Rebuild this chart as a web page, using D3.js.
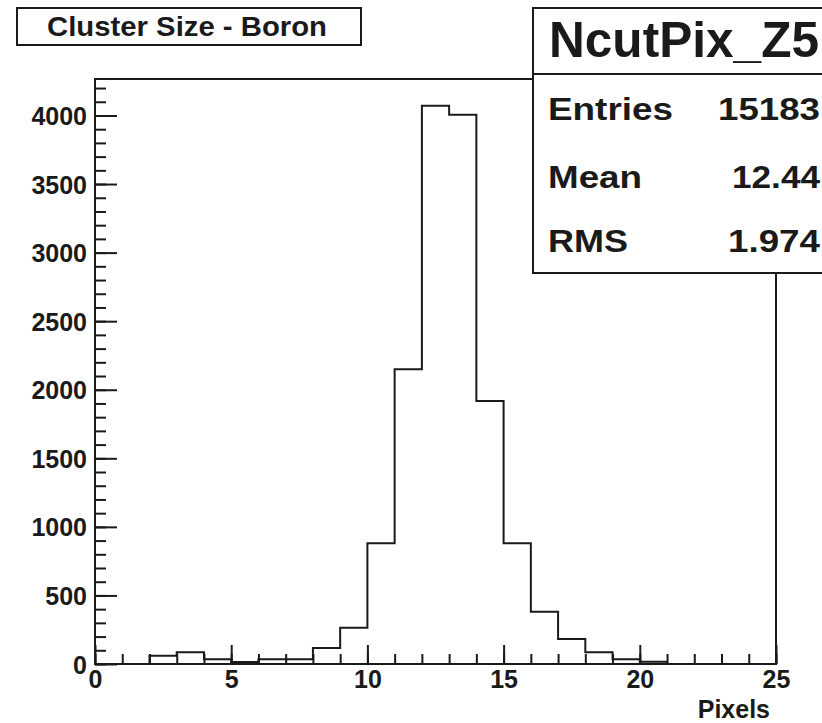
<!DOCTYPE html>
<html>
<head>
<meta charset="utf-8">
<script src="https://cdn.jsdelivr.net/npm/d3@7"></script>
<style>
  html, body { margin: 0; padding: 0; background: #fff; }
  svg { display: block; font-family: "Liberation Sans", Arial, Helvetica, sans-serif; font-weight: bold; }
</style>
</head>
<body>
<div id="chart"></div>
<script>
// cluster size histogram, one bin per pixel count (0..25)
const binEdges = [0, 1, 2, 3, 4, 5, 6, 7, 8, 9, 10, 11, 12, 13, 14, 15, 16, 17, 18, 19, 20, 21, 22, 23, 24, 25];
const binCounts = [0, 0, 60, 85, 34, 15, 34, 34, 117, 265, 880, 2149, 4071, 4006, 1918, 880, 381, 182, 85, 34, 17, 0, 0, 0, 0];

const xMajorTicks = [0, 5, 10, 15, 20, 25];
const yMajorTicks = [0, 500, 1000, 1500, 2000, 2500, 3000, 3500, 4000];
const yMax = 4266;

const histTitle = "Cluster Size - Boron";
const xTitle = "Pixels";
const statsName = "NcutPix_Z5";
const statsLabels = ["Entries", "Mean", "RMS"];
const statsValues = ["15183", "12.44", "1.974"];

const W = 822, H = 723;
const frame = { left: 95, right: 776, top: 79, bottom: 664 };
const ink = "#1a1a1a";

const svg = d3.select("#chart").append("svg")
    .attr("width", W)
    .attr("height", H);

const x = d3.scaleLinear()
    .domain([binEdges[0], binEdges[binEdges.length - 1]])
    .range([frame.left, frame.right]);

const y = d3.scaleLinear()
    .domain([0, yMax])
    .range([frame.bottom, frame.top]);

// frame
svg.append("rect")
    .attr("x", frame.left)
    .attr("y", frame.top)
    .attr("width", frame.right - frame.left)
    .attr("height", frame.bottom - frame.top)
    .attr("fill", "none")
    .attr("stroke", ink)
    .attr("stroke-width", 2);

// minor ticks, inward
const xMinor = binEdges;
const yMinor = d3.range(0, 4201, 100);

const xMinorAxis = svg.append("g")
    .attr("transform", `translate(0,${frame.bottom})`)
    .call(d3.axisBottom(x).tickValues(xMinor).tickSize(-10).tickFormat(""));
const yMinorAxis = svg.append("g")
    .attr("transform", `translate(${frame.left},0)`)
    .call(d3.axisLeft(y).tickValues(yMinor).tickSize(-11).tickFormat(""));

// major ticks with labels
const xAxis = svg.append("g")
    .attr("transform", `translate(0,${frame.bottom})`)
    .call(d3.axisBottom(x).tickValues(xMajorTicks).tickSize(-19).tickPadding(0).tickFormat(d3.format("d")));
const yAxis = svg.append("g")
    .attr("transform", `translate(${frame.left},0)`)
    .call(d3.axisLeft(y).tickValues(yMajorTicks).tickSize(-22).tickFormat(d3.format("d")));

[xMinorAxis, yMinorAxis, xAxis, yAxis].forEach(g => {
    g.select(".domain").remove();
    g.selectAll("line").attr("stroke", ink).attr("stroke-width", 2);
});

xAxis.selectAll("text")
    .attr("y", 24)
    .attr("dy", null)
    .attr("fill", ink)
    .style("font-size", "25px")
    .style("font-weight", "bold")
    .style("font-family", "'Liberation Sans', Arial, sans-serif");

yAxis.selectAll("text")
    .attr("x", -8)
    .attr("dy", "0.36em")
    .attr("fill", ink)
    .style("font-size", "25px")
    .style("font-weight", "bold")
    .style("font-family", "'Liberation Sans', Arial, sans-serif");

// histogram outline as a step path
const steps = [[binEdges[0], 0]];
binCounts.forEach((c, i) => {
    steps.push([binEdges[i], c]);
    steps.push([binEdges[i + 1], c]);
});
steps.push([binEdges[binEdges.length - 1], 0]);

svg.append("path")
    .datum(steps)
    .attr("fill", "none")
    .attr("stroke", ink)
    .attr("stroke-width", 2)
    .attr("d", d3.line().x(d => x(d[0])).y(d => y(d[1])));

// x axis title
svg.append("text")
    .attr("x", 770)
    .attr("y", 718)
    .attr("text-anchor", "end")
    .attr("fill", ink)
    .style("font-size", "25px")
    .text(xTitle);

// title box
svg.append("rect")
    .attr("x", 17).attr("y", 8)
    .attr("width", 344).attr("height", 37)
    .attr("fill", "#fff")
    .attr("stroke", ink)
    .attr("stroke-width", 2);

svg.append("text")
    .attr("x", 47).attr("y", 36)
    .attr("textLength", 280)
    .attr("lengthAdjust", "spacingAndGlyphs")
    .attr("fill", ink)
    .style("font-size", "27px")
    .text(histTitle);

// stats box
const stats = svg.append("g");
stats.append("rect")
    .attr("x", 533).attr("y", 8)
    .attr("width", 300).attr("height", 265)
    .attr("fill", "#fff")
    .attr("stroke", ink)
    .attr("stroke-width", 2);
stats.append("line")
    .attr("x1", 533).attr("x2", 833)
    .attr("y1", 74).attr("y2", 74)
    .attr("stroke", ink)
    .attr("stroke-width", 2);

stats.append("text")
    .attr("x", 549).attr("y", 57)
    .attr("textLength", 270)
    .attr("lengthAdjust", "spacingAndGlyphs")
    .attr("fill", ink)
    .style("font-size", "50px")
    .text(statsName);

const rowBase = [120, 188, 252];
const labelLen = [125, 94, 80];
const valueLen = [102, 88, 92];

statsLabels.forEach((lab, i) => {
    stats.append("text")
        .attr("x", 548).attr("y", rowBase[i])
        .attr("textLength", labelLen[i])
        .attr("lengthAdjust", "spacingAndGlyphs")
        .attr("fill", ink)
        .style("font-size", "31px")
        .text(lab);
    stats.append("text")
        .attr("x", 820 - valueLen[i]).attr("y", rowBase[i])
        .attr("textLength", valueLen[i])
        .attr("lengthAdjust", "spacingAndGlyphs")
        .attr("fill", ink)
        .style("font-size", "31px")
        .text(statsValues[i]);
});
</script>
</body>
</html>
